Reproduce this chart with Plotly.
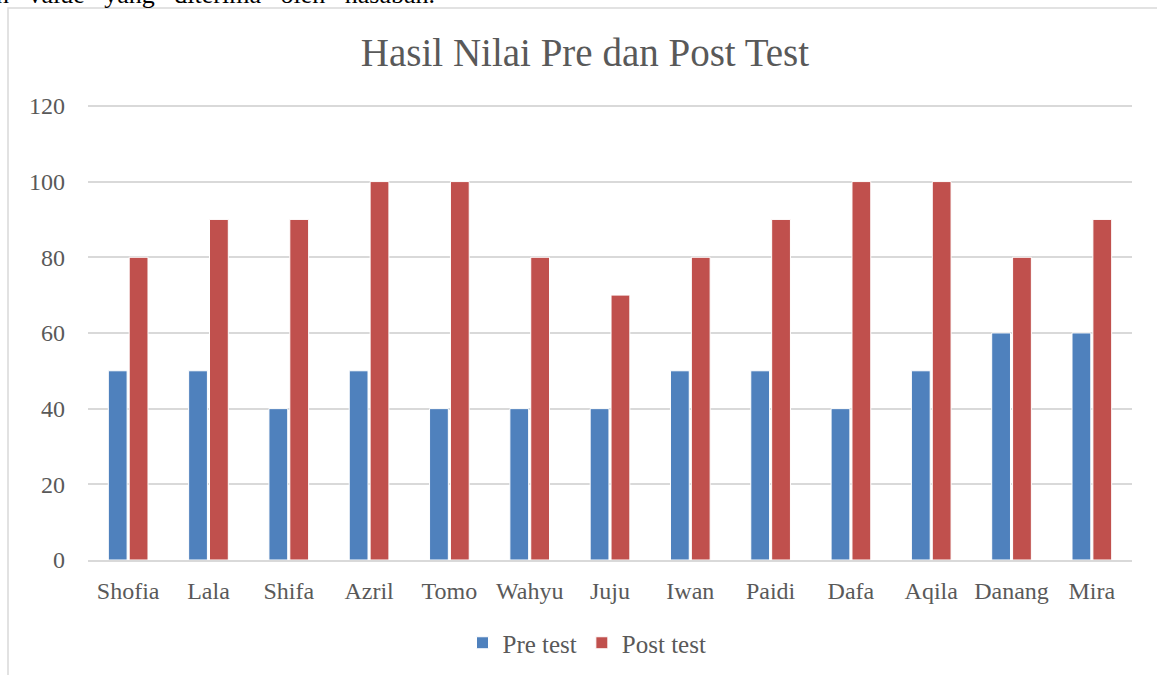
import plotly.graph_objects as go

names = ["Shofia", "Lala", "Shifa", "Azril", "Tomo", "Wahyu", "Juju",
         "Iwan", "Paidi", "Dafa", "Aqila", "Danang", "Mira"]
pre_test = [50, 50, 40, 50, 40, 40, 40, 50, 50, 40, 50, 60, 60]
post_test = [80, 90, 90, 100, 100, 80, 70, 80, 90, 100, 100, 80, 90]
y_ticks = [0, 20, 40, 60, 80, 100, 120]

FONT = "Liberation Serif"
GRAY = "#595959"

fig = go.Figure()
fig.add_trace(go.Bar(x=names, y=pre_test, name="Pre test",
                     marker=dict(color="#4F81BD", line=dict(color="white", width=1))))
fig.add_trace(go.Bar(x=names, y=post_test, name="Post test",
                     marker=dict(color="#C0504D", line=dict(color="white", width=1))))

L, R, T, B = 88, 25, 104, 115
W, H = 1157, 675
pw, ph = W - L - R, H - T - B

fig.update_layout(
    width=W, height=H,
    margin=dict(l=L, r=R, t=T, b=B, autoexpand=False),
    paper_bgcolor="white", plot_bgcolor="white",
    barmode="group", bargap=0.48, bargroupgap=0.1,
    font=dict(family=FONT, color=GRAY, size=23),
    title=dict(text="Hasil Nilai Pre dan Post Test", x=585 / W, xref="container",
               xanchor="center", y=1 - 52 / H, yanchor="middle",
               font=dict(family=FONT, size=39, color=GRAY)),
    legend=dict(orientation="h", x=(587 - L) / pw, xanchor="center", y=(560 - 643) / ph,
                yanchor="middle", font=dict(family=FONT, size=25, color=GRAY),
                itemwidth=30, traceorder="normal"),
    showlegend=True,
)
fig.update_xaxes(showgrid=False, showline=True, linecolor="#d9d9d9", linewidth=1.5,
                 ticks="", ticklabelstandoff=8,
                 tickfont=dict(family=FONT, size=24, color=GRAY))
fig.update_yaxes(range=[0, 120.5], tickvals=y_ticks, showgrid=True, gridcolor="#d9d9d9",
                 gridwidth=1.5, zeroline=False, showline=False, ticks="",
                 ticklabelstandoff=22,
                 tickfont=dict(family=FONT, size=24, color=GRAY))

# chart frame
fig.add_shape(type="rect", xref="paper", yref="paper",
              x0=(8 - L) / pw, x1=1.2, y0=-0.5, y1=1 + (T - 8) / ph,
              line=dict(color="#d9d9d9", width=1.5), fillcolor="rgba(0,0,0,0)", layer="below")

# fragment of the surrounding document text (mostly above the page edge)
fig.add_annotation(xref="paper", yref="paper", x=(-6 - L) / pw, y=1 + (T - 11) / ph,
                   xanchor="left", yanchor="bottom", showarrow=False,
                   text="n&#160;&#160;&#160;value&#160;&#160;&#160;yang&#160;&#160;&#160;diterima&#160;&#160;&#160;oleh&#160;&#160;&#160;nasabah.",
                   font=dict(family=FONT, size=26, color="black"))

fig.write_html("out.html", config={"displayModeBar": False},
               post_script="document.body.style.margin='0';")
